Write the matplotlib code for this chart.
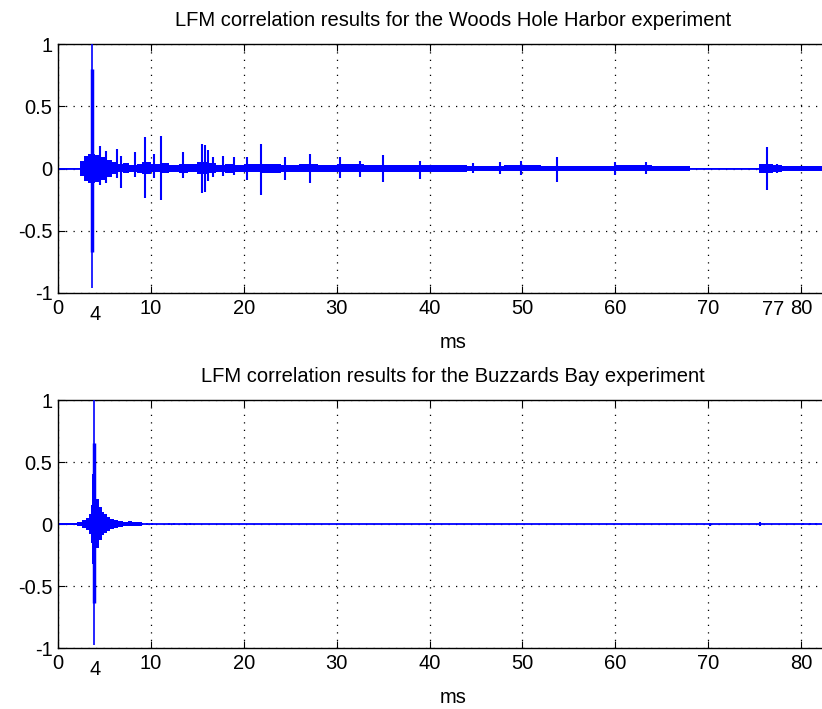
import matplotlib
matplotlib.use("Agg")
import matplotlib.pyplot as plt

plt.rcParams['font.family'] = ['Liberation Sans', 'DejaVu Sans']

# ---------------- data (ms, normalised correlation) ----------------
xticks = [0, 10, 20, 30, 40, 50, 60, 70, 80]
yticks = [-1, -0.5, 0, 0.5, 1]
ytick_labels = ["-1", "-0.5", "0", "0.5", "1"]

# Woods Hole Harbor: envelope of the dense correlation band
whh_env_t = [0, 2.3, 2.4, 2.8, 3.2, 4.0, 4.6, 5.2, 5.8, 6.2, 7.0, 7.6, 8.5, 9.0, 10.0, 11.0,
             12.0, 13.0, 14.0, 15.0, 16.0, 17.0, 18.0, 19.0, 20, 22, 24, 26, 28, 30, 33, 36,
             40, 44, 48, 52, 56, 60, 64, 67.5, 68, 75, 75.5, 77, 78, 80, 85]
whh_env_hi = [0.008, 0.008, 0.06, 0.10, 0.12, 0.11, 0.09, 0.07, 0.05, 0.035, 0.045, 0.03,
              0.04, 0.05, 0.035, 0.045, 0.03, 0.04, 0.035, 0.05, 0.045, 0.03, 0.04, 0.03,
              0.035, 0.04, 0.03, 0.035, 0.03, 0.035, 0.03, 0.028, 0.03, 0.022, 0.025, 0.02,
              0.022, 0.025, 0.02, 0.02, 0.008, 0.008, 0.035, 0.03, 0.02, 0.022, 0.02]
whh_env_lo = [-0.008, -0.008, -0.06, -0.10, -0.12, -0.11, -0.09, -0.07, -0.045, -0.03,
              -0.04, -0.03, -0.035, -0.045, -0.03, -0.04, -0.03, -0.035, -0.03, -0.045,
              -0.04, -0.028, -0.035, -0.028, -0.03, -0.035, -0.028, -0.03, -0.028, -0.03,
              -0.028, -0.025, -0.028, -0.02, -0.022, -0.018, -0.02, -0.022, -0.018, -0.018,
              -0.008, -0.008, -0.035, -0.028, -0.02, -0.02, -0.018]

# Woods Hole Harbor: individual arrivals (time, positive peak, negative peak)
whh_spike_t = [4.5, 5.2, 6.3, 6.75, 8.3, 9.36, 10.3, 11.1, 13.5, 15.5, 15.8, 16.1, 16.7,
               17.8, 18.9, 20.3, 21.9, 24.4, 27.1, 30.35, 32.5, 35.0, 39.0, 44.7, 47.6,
               49.9, 53.7, 60.0, 63.3, 76.3, 77.4]
whh_spike_hi = [0.18, 0.14, 0.16, 0.10, 0.135, 0.25, 0.12, 0.26, 0.13, 0.20, 0.19, 0.15, 0.095,
                0.10, 0.095, 0.09, 0.195, 0.094, 0.12, 0.094, 0.06, 0.107, 0.06, 0.045, 0.055,
                0.06, 0.094, 0.054, 0.05, 0.174, 0.04]
whh_spike_lo = [-0.13, -0.12, -0.08, -0.16, -0.07, -0.24, -0.08, -0.25, -0.08, -0.20, -0.19,
                -0.10, -0.065, -0.06, -0.055, -0.09, -0.21, -0.094, -0.12, -0.08, -0.07,
                -0.107, -0.085, -0.04, -0.045, -0.05, -0.107, -0.054, -0.045, -0.174, -0.04]
whh_main_t = 3.65
whh_main_peak = (1.05, -0.96)
whh_main_core = (0.80, -0.67)

# Buzzards Bay: envelope of the correlation band
bb_env_t = [0, 1.0, 2.0, 2.6, 3.0, 3.3, 3.5, 3.7, 3.9, 4.1, 4.4, 4.7, 5.0, 5.3, 5.6, 6.0, 6.5,
            7.0, 7.5, 8.0, 8.5, 9.0, 9.1, 85]
bb_env_hi = [0.01, 0.012, 0.015, 0.03, 0.05, 0.08, 0.15, 0.40, 0.30, 0.20, 0.14, 0.10, 0.08,
             0.06, 0.04, 0.03, 0.025, 0.018, 0.022, 0.015, 0.018, 0.012, 0.004, 0.004]
bb_env_lo = [-0.01, -0.012, -0.015, -0.03, -0.05, -0.08, -0.15, -0.32, -0.26, -0.19, -0.13,
             -0.09, -0.07, -0.055, -0.04, -0.03, -0.025, -0.018, -0.02, -0.015, -0.016,
             -0.012, -0.004, -0.004]

bb_spike_t = [9.6, 10.1, 12.0, 12.5, 13.7, 14.2, 70.2, 75.6, 80.2, 81.0, 81.6]
bb_spike_hi = [0.012, 0.012, 0.012, 0.012, 0.012, 0.012, 0.012, 0.015, 0.01, 0.012, 0.012]
bb_spike_lo = [-0.012, -0.012, -0.012, -0.012, -0.012, -0.012, -0.015, -0.015, -0.01, -0.012,
               -0.012]
bb_main_t = 3.85
bb_main_peak = (1.05, -0.976)
bb_main_core = (0.65, -0.64)

titles = ["LFM correlation results for the Woods Hole Harbor experiment",
          "LFM correlation results for the Buzzards Bay experiment"]
extra_labels = [[(4, "4", True), (77, "77", False)], [(4, "4", True)]]

# ---------------- drawing ----------------
W, H = 822, 709
fig = plt.figure(figsize=(W / 100, H / 100), dpi=100)
fig.patch.set_facecolor("white")

xmax = 85.0
px_per_ms = (801 - 58) / 80.0
ax_w = xmax * px_per_ms / W
axes_boxes = [(58 / W, 1 - 293 / H, ax_w, 249 / H),
              (58 / W, 1 - 648 / H, ax_w, 248 / H)]

datasets = [
    (whh_env_t, whh_env_hi, whh_env_lo, whh_spike_t, whh_spike_hi, whh_spike_lo,
     whh_main_t, whh_main_peak, whh_main_core),
    (bb_env_t, bb_env_hi, bb_env_lo, bb_spike_t, bb_spike_hi, bb_spike_lo,
     bb_main_t, bb_main_peak, bb_main_core),
]

fs = 14.5
for i, (box, data) in enumerate(zip(axes_boxes, datasets)):
    env_t, env_hi, env_lo, sp_t, sp_hi, sp_lo, m_t, m_peak, m_core = data
    ax = fig.add_axes(box)
    ax.set_xlim(0, xmax)
    ax.set_ylim(-1, 1)

    ax.axhline(0, color="b", lw=1.3, zorder=2)
    ax.fill_between(env_t, env_lo, env_hi, step="post", color="b", lw=0, zorder=2)
    ax.vlines(sp_t, sp_lo, sp_hi, color="b", lw=1.5, zorder=3)
    ax.vlines([m_t], [m_peak[1]], [m_peak[0]], color="b", lw=1.2, zorder=3)
    ax.vlines([m_t], [m_core[1]], [m_core[0]], color="b", lw=2.5, zorder=3)

    ax.set_xticks(xticks)
    ax.set_yticks(yticks)
    ax.set_yticklabels(ytick_labels)
    ax.tick_params(direction="in", length=5, width=0.8, top=True, right=True,
                   labelsize=fs, pad=4)
    ax.grid(True, color="black", linestyle=(0, (1, 5)), linewidth=0.9)
    for s in ax.spines.values():
        s.set_linewidth(1.0)
        s.set_color("black")

    for xv, txt, low in extra_labels[i]:
        ax.text(xv, -1.06 if not low else -1.1, txt, ha="center", va="top",
                fontsize=fs, transform=ax.transData)

    ax.set_xlabel("ms", fontsize=fs, labelpad=11)
    ax.set_title(titles[i], fontsize=fs, pad=13)

fig.savefig("out.png", dpi=100, facecolor="white")
